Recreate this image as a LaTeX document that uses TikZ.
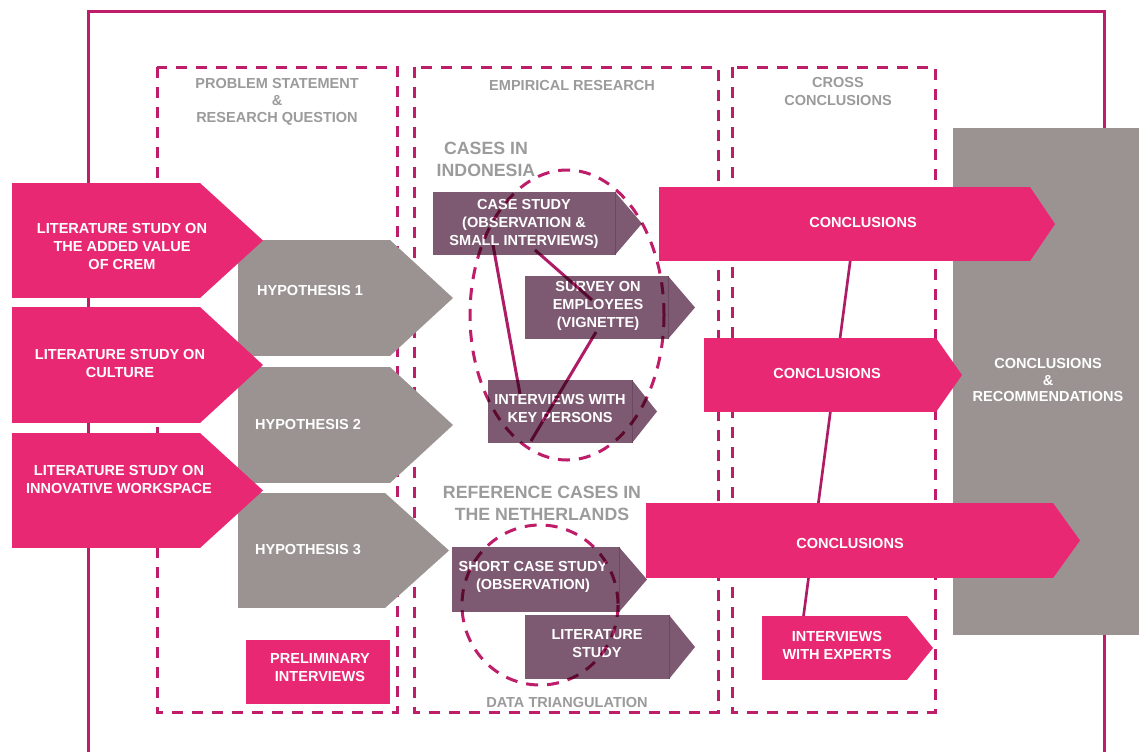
\documentclass[tikz,border=0pt]{standalone}
\usepackage{fontspec}
\setmainfont{Liberation Sans}
\definecolor{pinkc}{RGB}{232,40,115}
\definecolor{grayc}{RGB}{154,147,145}
\definecolor{purc}{RGB}{125,90,114}
\definecolor{purdark}{RGB}{105,72,96}
\definecolor{framec}{RGB}{190,30,105}
\definecolor{linkc}{RGB}{175,28,102}
\definecolor{labelc}{RGB}{155,155,155}
\newcommand\sigbox[7]{%
  \node[fill=#1, draw=none, inner sep=0pt, outer sep=0pt, anchor=north west,
        minimum width={(#5-#3)*0.75pt}, minimum height={(#6-#4)*0.75pt}] (#2) at (#3,#4) {};
  \fill[#1] (#2.north east) -- (#7,{(#4+#6)/2}) -- (#2.south east) -- cycle;}
\tikzset{
  txt/.style={text=white, font=\bfseries\fontsize{10.9}{13.5}\selectfont, align=center, inner sep=0pt},
  lbl/.style={text=labelc, font=\bfseries\fontsize{10.9}{13.5}\selectfont, align=center, inner sep=0pt},
  biglbl/.style={text=labelc, font=\bfseries\fontsize{13.3}{16.5}\selectfont, align=center, inner sep=0pt},
  frame/.style={draw=framec, line width=2.25pt},
  dashbox/.style={draw=framec, line width=2.25pt, dash pattern=on 8.25pt off 6.75pt},
  dashell/.style={draw=framec, line width=2.25pt, dash pattern=on 9pt off 6.75pt},
  inlink/.style={draw=linkc, line width=2.25pt},
  clink/.style={draw=linkc, line width=2pt},
  sepline/.style={draw=purdark, line width=0.6pt}
}
\begin{document}
\begin{tikzpicture}[x=0.75pt,y=-0.75pt]
\useasboundingbox (0,0) rectangle (1139,751);
\fill[white] (0,0) rectangle (1139,751);
% outer frame
\draw[frame] (88,760) -- (88,11) -- (1104,11) -- (1104,760);
% dashed section boxes
\draw[dashbox] (157,67) rectangle (397,712);
\draw[dashbox] (414,67) rectangle (718,712);
\draw[dashbox] (732,67) rectangle (935,712);
% big result box
\node[fill=grayc, inner sep=0pt, anchor=north west, minimum width={186*0.75pt}, minimum height={507*0.75pt}] (rec) at (953,128) {};
\node[txt] (rect) at (1048,380) {CONCLUSIONS\\[-1pt]\&\\[-1pt]RECOMMENDATIONS};
% connection line between conclusions
\coordinate (cA) at (851,255);
\coordinate (cB) at (803,620);
\draw[clink] (cA) -- (cB);
% hypotheses
\sigbox{grayc}{h1}{238}{240}{390}{356}{453}
\sigbox{grayc}{h2}{238}{367}{390}{483}{453}
\sigbox{grayc}{h3}{238}{493}{385}{608}{449}
\node[txt] (h1t) at (310,290) {HYPOTHESIS 1};
\node[txt] (h2t) at (308,424) {HYPOTHESIS 2};
\node[txt] (h3t) at (308,549) {HYPOTHESIS 3};
% literature studies
\sigbox{pinkc}{l1}{12}{183}{200}{298}{263}
\sigbox{pinkc}{l2}{12}{307}{200}{423}{263}
\sigbox{pinkc}{l3}{12}{433}{200}{548}{263}
\node[txt] (l1t) at (122,246) {LITERATURE STUDY ON\\THE ADDED VALUE\\OF CREM};
\node[txt] (l2t) at (120,363) {LITERATURE STUDY ON\\CULTURE};
\node[txt] (l3t) at (119,479) {LITERATURE STUDY ON\\INNOVATIVE WORKSPACE};
% preliminary interviews
\node[fill=pinkc, inner sep=0pt, anchor=north west, minimum width={144*0.75pt}, minimum height={64*0.75pt}] (pre) at (246,640) {};
\node[txt] (pret) at (320,668) {PRELIMINARY\\INTERVIEWS};
% empirical boxes
\sigbox{purc}{cs}{433}{192}{615}{255}{642}
\sigbox{purc}{sv}{525}{276}{668}{339}{695}
\sigbox{purc}{ik}{488}{380}{632}{443}{657}
\sigbox{purc}{sc}{452}{547}{619}{612}{647}
\sigbox{purc}{ls}{525}{615}{669}{679}{695}
\foreach \n in {cs,sv,ik,sc,ls}{\draw[sepline] (\n.north east) -- (\n.south east);}
\node[txt] (cst) at (524,224) {CASE STUDY\\(OBSERVATION \&\\SMALL INTERVIEWS)};
\node[txt] (svt) at (598,306) {SURVEY ON\\EMPLOYEES\\(VIGNETTE)};
\node[txt] (ikt) at (560,408) {INTERVIEWS WITH\\KEY PERSONS};
\node[txt] (sct) at (533,577) {SHORT CASE STUDY\\(OBSERVATION)};
\node[txt] (lst) at (597,644) {LITERATURE\\STUDY};
% triangulation links and dashed ellipses (multiplied over the boxes)
\coordinate (csA) at (493,245);
\coordinate (ikA) at (520,394);
\coordinate (csB) at (535,250);
\coordinate (svA) at (592,300);
\coordinate (svB) at (596,332);
\coordinate (ikB) at (531,441);
\begin{scope}[blend mode=multiply]
\draw[inlink] (csA) -- (ikA);
\draw[inlink] (csB) -- (svA);
\draw[inlink] (svB) -- (ikB);
\draw[dashell] (567,315) ellipse [x radius=97, y radius=145];
\draw[dashell] (540,605) ellipse [x radius=78, y radius=80];
\end{scope}
% conclusions
\sigbox{pinkc}{c1}{659}{187}{1030}{261}{1055}
\sigbox{pinkc}{c2}{704}{338}{936}{412}{962}
\sigbox{pinkc}{c3}{646}{503}{1053}{578}{1080}
\sigbox{pinkc}{ex}{762}{616}{907}{680}{933}
\node[txt] (c1t) at (863,222) {CONCLUSIONS};
\node[txt] (c2t) at (827,373) {CONCLUSIONS};
\node[txt] (c3t) at (850,543) {CONCLUSIONS};
\node[txt] (ext) at (837,645) {INTERVIEWS\\WITH EXPERTS};
% section labels
\node[lbl] (ps) at (277,102) {PROBLEM STATEMENT\\[-1pt]\&\\[-1pt]RESEARCH QUESTION};
\node[lbl] (er) at (572,85) {EMPIRICAL RESEARCH};
\node[lbl] (cc) at (838,91) {CROSS\\CONCLUSIONS};
\node[biglbl] (ci) at (486,159) {CASES IN\\INDONESIA};
\node[biglbl] (rc) at (542,503) {REFERENCE CASES IN\\THE NETHERLANDS};
\node[lbl] (dt) at (567,702) {DATA TRIANGULATION};
\end{tikzpicture}
\end{document}
